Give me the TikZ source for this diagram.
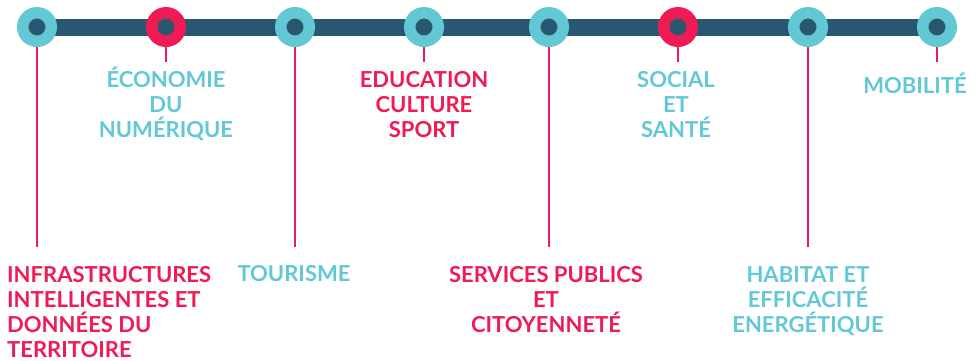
\documentclass[tikz,border=0pt]{standalone}
\usepackage{fontspec}
\setmainfont{Lato}
\usetikzlibrary{backgrounds}
\definecolor{teal}{HTML}{63C8D6}
\definecolor{pinkc}{HTML}{EE1B55}
\definecolor{darkc}{HTML}{27586F}
\begin{document}
\begin{tikzpicture}[x=1pt,y=-1pt,
  ring/.style={circle,inner sep=0pt,minimum size=28.5pt,line width=11.5pt,draw=#1,fill=darkc},
  stem/.style={draw=pinkc,line width=1.5pt},
  lab/.style={font=\fontsize{22}{25}\selectfont\bfseries,text=#1,inner sep=0pt,anchor=base,align=center},
  bar/.style={draw=darkc,line width=17pt}]
\useasboundingbox (0,0) rectangle (977,360);
\node[ring=teal]  (c1) at (37,27) {};
\node[ring=pinkc] (c2) at (166,27) {};
\node[ring=teal]  (c3) at (295,27) {};
\node[ring=teal]  (c4) at (424,27) {};
\node[ring=teal]  (c5) at (549,27) {};
\node[ring=pinkc] (c6) at (678,27) {};
\node[ring=teal]  (c7) at (808,27) {};
\node[ring=teal]  (c8) at (937,27) {};
\coordinate (e1) at (37,247);
\coordinate (e2) at (166,62);
\coordinate (e3) at (295,247);
\coordinate (e4) at (424,62);
\coordinate (e5) at (549,247);
\coordinate (e6) at (678,62);
\coordinate (e7) at (808,247);
\coordinate (e8) at (937,62);
\begin{scope}[on background layer]
\draw[bar] (c1.center) -- (c8.center);
\foreach \i in {1,...,8} \draw[stem] (c\i.south) -- (e\i);
\end{scope}
\node[lab=teal] (t2) at (166,137) {ÉCONOMIE\\DU\\NUMÉRIQUE};
\node[lab=pinkc] (t4) at (424,137) {EDUCATION\\CULTURE\\SPORT};
\node[lab=teal] (t6) at (676,137) {SOCIAL\\ET\\SANTÉ};
\node[lab=teal] (t8) at (915,93) {MOBILITÉ};
\node[lab=pinkc,anchor=base west,align=left] (t1) at (7,357) {INFRASTRUCTURES\\INTELLIGENTES ET\\DONNÉES DU\\TERRITOIRE};
\node[lab=teal] (t3) at (294,281) {TOURISME};
\node[lab=pinkc] (t5) at (546,332) {SERVICES PUBLICS\\ET\\CITOYENNETÉ};
\node[lab=teal] (t7) at (808,332) {HABITAT ET\\EFFICACITÉ\\ENERGÉTIQUE};
\end{tikzpicture}
\end{document}
